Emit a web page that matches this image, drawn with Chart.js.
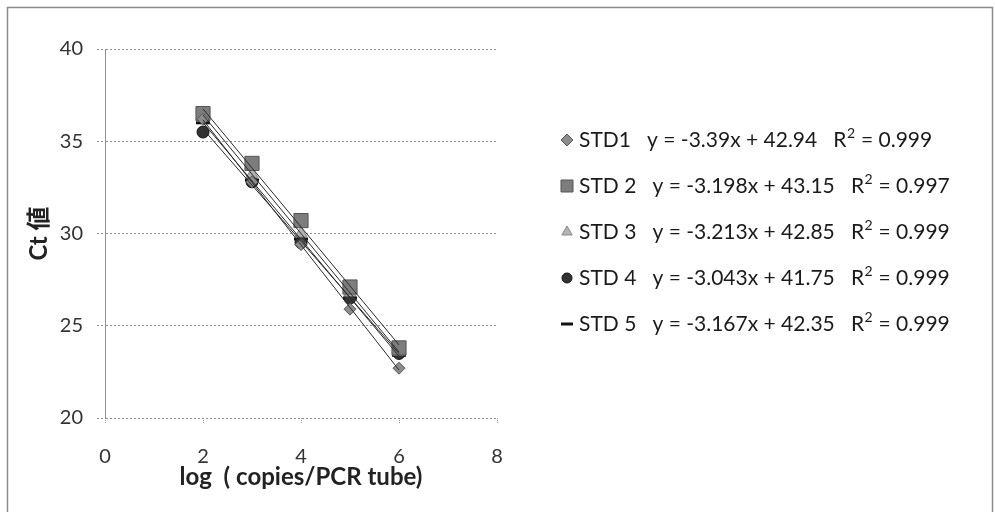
<!DOCTYPE html>
<html>
<head>
<meta charset="utf-8">
<script src="https://cdn.jsdelivr.net/npm/chart.js@4/dist/chart.umd.min.js"></script>
<style>
body { margin: 0; background: #fff; }
#wrap { width: 995px; height: 512px; }
</style>
</head>
<body>
<div id="wrap"><canvas id="graficoCt"></canvas></div>
<script>
const logCopies = [2, 3, 4, 5, 6];
const std1 = [36.2, 32.8, 29.4, 25.9, 22.7];
const std2 = [36.5, 33.8, 30.7, 27.1, 23.8];
const std3 = [36.3, 33.2, 30.0, 26.8, 23.6];
const std4 = [35.5, 32.8, 29.5, 26.5, 23.5];
const std5 = [36.0, 32.9, 29.7, 26.5, 23.4];

const nomes = ["STD1", "STD 2", "STD 3", "STD 4", "STD 5"];
const inclinacoes = [-3.39, -3.198, -3.213, -3.043, -3.167];
const interceptos = [42.94, 43.15, 42.85, 41.75, 42.35];
const r2 = ["0.999", "0.997", "0.999", "0.999", "0.999"];

const xTicks = [0, 2, 4, 6, 8];
const yTicks = [20, 25, 30, 35, 40];

const fonte = "Lato, 'Noto Sans CJK JP', sans-serif";

const series = [std1, std2, std3, std4, std5];
const estilos = [
  { pointStyle: "rectRot", radius: 6, leg: 6, fill: "#8c8c8c", borda: "#5a5a5a", bw: 1 },
  { pointStyle: "rect", radius: 10, leg: 8.5, fill: "#7d7d7d", borda: "#555", bw: 1 },
  { pointStyle: "triangle", radius: 7, leg: 6, fill: "#b4b4b4", borda: "#8a8a8a", bw: 1 },
  { pointStyle: "circle", radius: 6, leg: 5, fill: "#333", borda: "#111", bw: 1 },
  { pointStyle: "line", radius: 7, leg: 6, fill: "#111", borda: "#111", bw: 3 },
];

const datasets = [];

// linhas de tendência (equações da legenda), de x=2 até x=6
series.forEach((s, i) => {
  const x0 = logCopies[0];
  const x1 = logCopies[logCopies.length - 1];
  datasets.push({
    type: "scatter",
    label: nomes[i] + " tendência",
    data: [
      { x: x0, y: inclinacoes[i] * x0 + interceptos[i] },
      { x: x1, y: inclinacoes[i] * x1 + interceptos[i] },
    ],
    showLine: true,
    borderColor: "#2a2a2a",
    borderWidth: 1,
    pointRadius: 0,
  });
});

series.forEach((s, i) => {
  const e = estilos[i];
  datasets.push({
    type: "scatter",
    label: nomes[i],
    data: s.map((v, j) => ({ x: logCopies[j], y: v })),
    pointStyle: e.pointStyle,
    pointRadius: e.radius,
    pointBackgroundColor: e.fill,
    pointBorderColor: e.borda,
    pointBorderWidth: e.bw,
  });
});

const moldura = {
  id: "moldura",
  beforeDraw(chart) {
    const ctx = chart.ctx;
    ctx.save();
    ctx.fillStyle = "#fff";
    ctx.fillRect(0, 0, chart.width, chart.height);
    ctx.strokeStyle = "#8a8a8a";
    ctx.lineWidth = 1.5;
    ctx.strokeRect(7.5, 7.5, 985, 520);
    ctx.restore();
  },
};

const legendaLateral = {
  id: "legendaLateral",
  afterDraw(chart) {
    const ctx = chart.ctx;
    ctx.save();
    ctx.textBaseline = "middle";
    nomes.forEach((nome, i) => {
      const y = 140 + i * 46;
      const e = estilos[i];
      ctx.fillStyle = e.fill;
      ctx.strokeStyle = e.borda;
      ctx.lineWidth = e.bw;
      Chart.helpers.drawPoint(ctx, { pointStyle: e.pointStyle, radius: e.leg, borderWidth: e.bw, rotation: 0 }, 567, y);

      ctx.fillStyle = "#1a1a1a";
      ctx.font = "21px " + fonte;
      const b = inclinacoes[i] < 0 ? "-" + Math.abs(inclinacoes[i]) : inclinacoes[i];
      const parte1 = nome + "   y = " + b + "x + " + interceptos[i] + "   R";
      let x = 579;
      ctx.fillText(parte1, x, y);
      x += ctx.measureText(parte1).width;
      ctx.font = "14px " + fonte;
      ctx.fillText("2", x + 0.5, y - 7);
      x += ctx.measureText("2").width + 1;
      ctx.font = "21px " + fonte;
      ctx.fillText(" = " + r2[i], x, y);
    });
    ctx.restore();
  },
};

new Chart(document.getElementById("graficoCt"), {
  data: { datasets: datasets },
  options: {
    responsive: true,
    maintainAspectRatio: false,
    animation: false,
    layout: { padding: { top: 49, right: 498, left: 0, bottom: 0 } },
    plugins: { legend: { display: false }, tooltip: { enabled: false } },
    scales: {
      x: {
        type: "linear",
        min: 0,
        max: 8,
        afterBuildTicks: (s) => { s.ticks = xTicks.map((v) => ({ value: v })); },
        afterFit: (s) => { s.height = 94; },
        ticks: { color: "#333", padding: 22, font: { family: fonte, size: 20 } },
        grid: { drawOnChartArea: false, tickLength: 5, color: "#999", tickBorderDash: [1, 1] },
        border: { display: false },
        title: {
          display: true,
          text: "log  ( copies/PCR tube)",
          color: "#222",
          padding: { bottom: 20 },
          font: { family: fonte, size: 24, weight: "bold" },
        },
      },
      y: {
        type: "linear",
        min: 20,
        max: 40,
        afterBuildTicks: (s) => { s.ticks = yTicks.map((v) => ({ value: v })); },
        afterFit: (s) => { s.width = 105; },
        ticks: { color: "#333", padding: 14, font: { family: fonte, size: 20 } },
        grid: { color: "#8f8f8f", tickLength: 8, borderDash: [2, 2], tickBorderDash: [2, 2] },
        border: { display: true, color: "#8f8f8f", dash: [2, 2] },
        title: {
          display: true,
          text: "Ct 値",
          color: "#222",
          padding: { top: 25 },
          font: { family: fonte, size: 24, weight: "bold" },
        },
      },
    },
  },
  plugins: [moldura, legendaLateral],
});
</script>
</body>
</html>
